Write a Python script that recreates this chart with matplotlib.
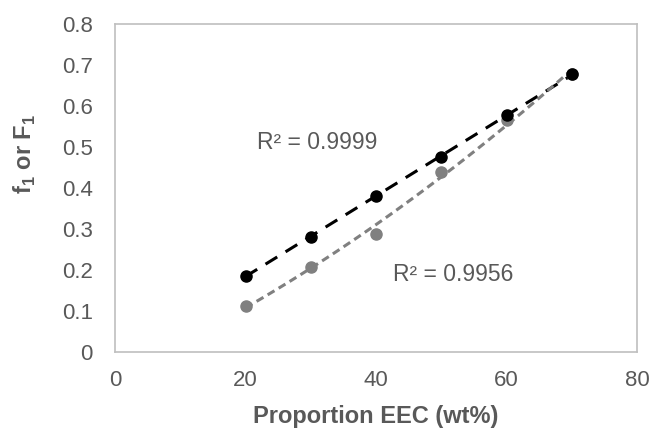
import numpy as np
import matplotlib
matplotlib.use("Agg")
import matplotlib.pyplot as plt

# Datos
eec = [20, 30, 40, 50, 60, 70]
f1 = [0.186, 0.281, 0.381, 0.476, 0.577, 0.677]
F1 = [0.112, 0.207, 0.287, 0.440, 0.566, 0.679]
r2_f1 = "R² = 0.9999"
r2_F1 = "R² = 0.9956"
xticks = [0, 20, 40, 60, 80]
yticks = [0, 0.1, 0.2, 0.3, 0.4, 0.5, 0.6, 0.7, 0.8]

TXT = "#595959"
GRIS = "#808080"
plt.rcParams["font.family"] = ["Liberation Sans", "DejaVu Sans"]
plt.rcParams["mathtext.fontset"] = "custom"
plt.rcParams["mathtext.bf"] = "Liberation Sans:bold"
plt.rcParams["mathtext.rm"] = "Liberation Sans"

fig = plt.figure(figsize=(6.52, 4.29), dpi=100)
ax = fig.add_axes([115 / 652, 1 - 352 / 429, 522 / 652, 328 / 429])

# líneas de tendencia: lineal (f1) y polinómica de orden 2 (F1)
xs = np.linspace(20, 70, 100)
c1 = np.polyfit(eec, f1, 1)
c2 = np.polyfit(eec, F1, 2)
ax.plot(xs, np.polyval(c1, xs), color="black", lw=2.2, dashes=(4.5, 3.2), zorder=2)
ax.plot(xs, np.polyval(c2, xs), color=GRIS, lw=2.2, dashes=(2.6, 1.6), zorder=2)

ax.plot(eec, F1, "o", color=GRIS, ms=8, zorder=3)
ax.plot(eec, f1, "o", color="black", ms=8, zorder=4)

ax.text(21.8, 0.494, r2_f1, color=TXT, fontsize=16.5, va="baseline")
ax.text(42.6, 0.174, r2_F1, color=TXT, fontsize=16.5, va="baseline")

ax.set_xlim(0, 80)
ax.set_ylim(0, 0.8)
ax.set_xticks(xticks)
ax.set_xticklabels([str(v) for v in xticks])
ax.set_yticks(yticks)
ax.set_yticklabels(["0"] + [f"{v:.1f}" for v in yticks[1:]])
ax.tick_params(length=0, labelsize=16, labelcolor=TXT)
ax.tick_params(axis="y", pad=16)
ax.tick_params(axis="x", pad=13)
for s in ax.spines.values():
    s.set_color("#BFBFBF")
    s.set_linewidth(1.2)

fig.text(376 / 652, 1 - 423 / 429, "Proportion EEC (wt%)", ha="center", va="baseline",
         fontsize=17, fontweight="bold", color=TXT)
fig.text(25 / 652, 1 - 154 / 429, r"f$_\mathbf{1}$ or F$_\mathbf{1}$", ha="center", va="center",
         rotation=90, fontsize=17, fontweight="bold", color=TXT)

fig.savefig("out.png", dpi=100)
